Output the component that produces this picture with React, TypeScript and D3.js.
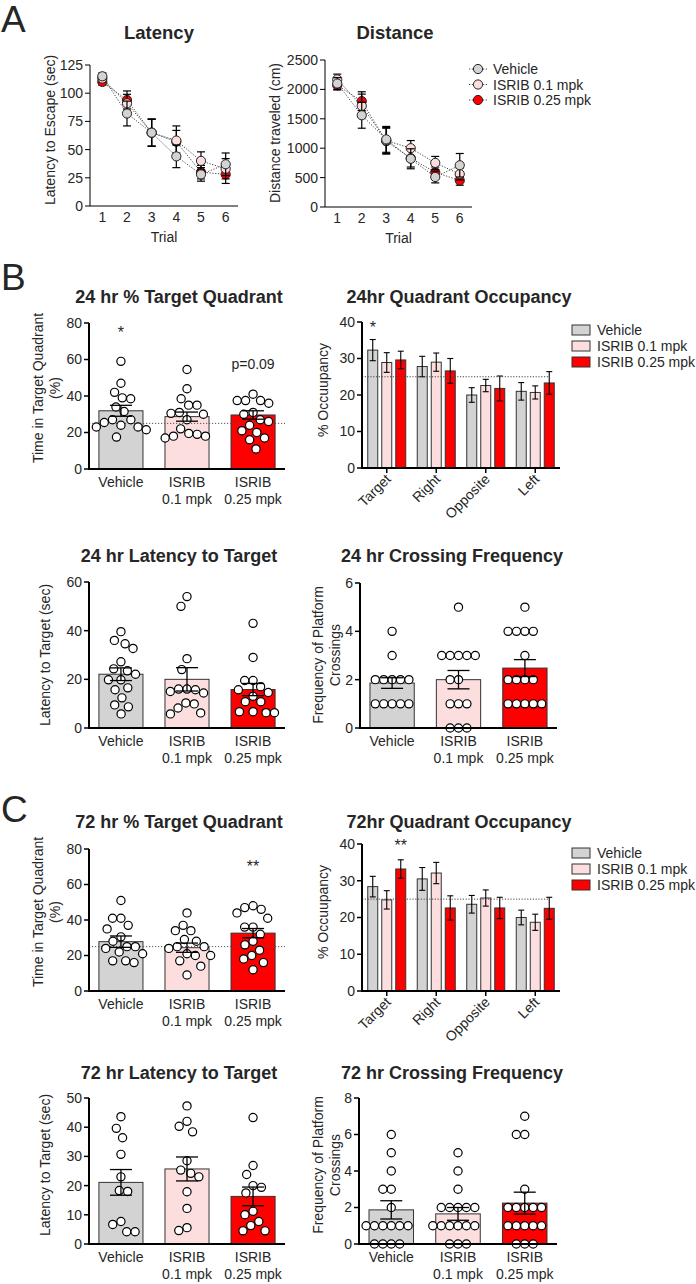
import React from "react";
import * as d3 from "d3";

const FONT = "'Liberation Sans', Arial, Helvetica, sans-serif";
const TXT = "#262626";

// ---------- shared categories ----------
const SERIES = ["Vehicle", "ISRIB 0.1 mpk", "ISRIB 0.25 mpk"];
const FILLS = ["#d3d3d3", "#fcdede", "#ff0000"];
const GROUP_LABELS = [["Vehicle"], ["ISRIB", "0.1 mpk"], ["ISRIB", "0.25 mpk"]];
const QUADRANTS = ["Target", "Right", "Opposite", "Left"];
const TRIALS = [1, 2, 3, 4, 5, 6];

// ---------- Panel A ----------
const latVeh = [115, 82, 65, 44, 28, 37];
const latVehSem = [3, 11, 12, 10, 6, 10];
const lat01 = [113, 91, 65, 58, 40, 33];
const lat01Sem = [3, 8, 12, 13, 8, 9];
const lat025 = [110, 94, 65, 57, 30, 28];
const lat025Sem = [3, 8, 12, 10, 6, 8];

const distVeh = [2100, 1560, 1150, 820, 510, 710];
const distVehSem = [100, 220, 220, 170, 100, 200];
const dist01 = [2170, 1720, 1130, 1000, 750, 560];
const dist01Sem = [90, 200, 220, 130, 110, 100];
const dist025 = [2070, 1800, 1120, 830, 590, 450];
const dist025Sem = [80, 160, 220, 150, 90, 80];

// ---------- Panel B (24 hr) ----------
const b24TargetMean = [31.9, 28.7, 29.6];
const b24TargetSem = [3.0, 2.5, 2.3];
const b24TargetVeh = [59, 47, 42, 39, 38.5, 34, 31.5, 27, 27, 25.5, 24, 23, 23, 21.5, 17.5];
const b24Target01 = [54.5, 44, 38.5, 35, 35, 31, 30.5, 30, 27, 22, 19.5, 18, 18, 19, 17];
const b24Target025 = [41, 37.5, 37.5, 37.5, 36, 31, 30, 27, 26, 24, 21, 20, 17, 16, 11];

const b24OccVeh = [32.3, 27.8, 20.0, 21.0];
const b24OccVehSem = [2.9, 2.8, 2.0, 2.4];
const b24Occ01 = [28.9, 29.0, 22.6, 20.7];
const b24Occ01Sem = [2.7, 2.5, 1.7, 1.8];
const b24Occ025 = [29.6, 26.6, 21.8, 23.3];
const b24Occ025Sem = [2.4, 3.4, 3.4, 3.1];

const b24LatMean = [22.1, 20.0, 15.8];
const b24LatSem = [2.6, 4.8, 2.5];
const b24LatVeh = [39.6, 36, 34.6, 32.7, 27.2, 24.3, 23.5, 22.1, 19.8, 19.8, 16.5, 15.7, 12.4, 9.5, 8.7, 5.8];
const b24Lat01 = [54, 50, 28.5, 24, 16, 16, 15.7, 15, 14.4, 10.3, 9.9, 8.2, 6.2, 5.8];
const b24Lat025 = [43, 29, 19.5, 19.5, 17, 15.7, 14.6, 13, 10.8, 10.8, 6.7, 6.3, 6.3, 6.7];

const b24CrossMean = [1.86, 2.0, 2.48];
const b24CrossSem = [0.22, 0.38, 0.35];
const b24CrossVeh = [4, 3, 2, 2, 2, 2, 2, 1, 1, 1, 1, 1];
const b24Cross01 = [5, 3, 3, 3, 3, 3, 2, 2, 1, 1, 1, 0, 0, 0];
const b24Cross025 = [5, 4, 4, 4, 4, 3, 2, 2, 2, 2, 1, 1, 1, 1, 1];

// ---------- Panel C (72 hr) ----------
const c72TargetMean = [27.8, 24.4, 32.6];
const c72TargetSem = [3.2, 2.6, 2.6];
const c72TargetVeh = [51, 41, 41, 37, 35, 30.5, 28, 25, 25, 24, 22, 21, 17, 16, 17];
const c72Target01 = [44, 37, 34, 34, 29, 28, 25, 25, 24, 21, 20, 20, 17, 14, 9];
const c72Target025 = [48, 47, 46, 44, 41, 36, 36, 32, 28, 26, 23, 20, 18, 16, 12];

const c72OccVeh = [28.4, 30.5, 23.6, 20.0];
const c72OccVehSem = [2.8, 3.1, 2.4, 2.0];
const c72Occ01 = [24.8, 32.1, 25.3, 18.7];
const c72Occ01Sem = [2.5, 2.9, 2.2, 2.2];
const c72Occ025 = [33.2, 22.6, 22.6, 22.5];
const c72Occ025Sem = [2.5, 3.3, 2.9, 3.0];

const c72LatMean = [21.1, 25.7, 16.3];
const c72LatSem = [4.4, 4.1, 3.2];
const c72LatVeh = [43.6, 39.6, 36.4, 30.7, 23, 18.3, 18, 7.7, 6.7, 4.2, 4.2];
const c72Lat01 = [47.3, 42, 40.3, 38.4, 28.5, 25.3, 24.2, 23, 17.9, 12.2, 5.6, 4.6];
const c72Lat025 = [43.3, 26.9, 23.8, 20, 19.4, 17.5, 11.2, 10, 7.7, 6.3, 4.5, 4.5];

const c72CrossMean = [1.87, 1.65, 2.24];
const c72CrossSem = [0.5, 0.35, 0.6];
const c72CrossVeh = [6, 5, 4, 3, 3, 2, 1, 1, 1, 1, 1, 1, 0, 0, 0, 0];
const c72Cross01 = [5, 4, 3, 2, 2, 2, 2, 2, 1, 1, 1, 1, 1, 1, 0, 0, 0];
const c72Cross025 = [7, 6, 6, 3, 2, 2, 2, 2, 2, 1, 1, 1, 1, 1, 0, 0, 0];

// ---------- helpers ----------
// beeswarm-style horizontal dodge; vertical distances are weighted by k so
// neighbours at similar heights spread sideways a little more
function dodge(vals: number[], y: (v: number) => number, r: number, k = 0.6): number[] {
  const d = 2 * r;
  const order = vals.map((_, i) => i).sort((a, b) => vals[b] - vals[a]);
  const placed: { x: number; y: number }[] = [];
  const out = new Array(vals.length).fill(0);
  for (const i of order) {
    const yy = y(vals[i]);
    const cands = [0];
    for (const p of placed) {
      const dy = Math.abs(p.y - yy) * k;
      if (dy < d) {
        const dx = Math.sqrt(d * d - dy * dy);
        cands.push(p.x - dx, p.x + dx);
      }
    }
    cands.sort((a, b) => Math.abs(a) - Math.abs(b) || a - b);
    let best = 0;
    for (const c of cands) {
      if (placed.every((p) => (p.x - c) ** 2 + ((p.y - yy) * k) ** 2 >= d * d - 0.01)) {
        best = c;
        break;
      }
    }
    placed.push({ x: best, y: yy });
    out[i] = best;
  }
  return out;
}

function YLabel({ x, y, lines, gap = 17 }: { x: number; y: number; lines: string[]; gap?: number }) {
  return (
    <g>
      {lines.map((l, i) => (
        <text
          key={i}
          transform={`translate(${x + i * gap},${y}) rotate(-90)`}
          textAnchor="middle"
          dominantBaseline="central"
          fontSize={14}
          fill={TXT}
        >
          {l}
        </text>
      ))}
    </g>
  );
}

function YAxis({ x, y, ticks, width = 2 }: { x: number; y: d3.ScaleLinear<number, number>; ticks: number[]; width?: number }) {
  const [y0, y1] = y.range();
  return (
    <g>
      <line x1={x} x2={x} y1={y0} y2={y1} stroke="#000" strokeWidth={width} />
      {ticks.map((t) => (
        <g key={t}>
          <line x1={x - 5} x2={x} y1={y(t)} y2={y(t)} stroke="#000" strokeWidth={width === 2 ? 1.5 : 1} />
          <text x={x - 7} y={y(t)} dy="0.35em" textAnchor="end" fontSize={14} fill={TXT}>
            {t}
          </text>
        </g>
      ))}
    </g>
  );
}

// ---------- Line chart (panel A) ----------
type LineSeries = { vals: number[]; sems: number[] };
function LineChart(props: {
  x0: number; x1: number; yBase: number; yTop: number; yMax: number; step: number;
  series: LineSeries[]; title: string; titleX: number; ylab: string; ylabX: number; ylabY: number;
}) {
  const { x0, x1, yBase, yTop, yMax, step, series, title, titleX, ylab, ylabX, ylabY } = props;
  const x = d3.scaleLinear().domain([0.5, 6.5]).range([x0, x1]);
  const y = d3.scaleLinear().domain([0, yMax]).range([yBase, yTop]);
  const ticks = d3.range(0, yMax + 1e-9, step);
  const line = d3.line<number>().x((_, i) => x(TRIALS[i])).y((v) => y(v));
  const drawOrder = [2, 1, 0];
  return (
    <g>
      <text x={titleX} y={39} textAnchor="middle" fontSize={18.5} fontWeight="bold" fill={TXT}>{title}</text>
      <YAxis x={x0} y={y} ticks={ticks} width={1} />
      <line x1={x0} x2={x1} y1={yBase} y2={yBase} stroke="#000" strokeWidth={1} />
      {TRIALS.map((t) => (
        <text key={t} x={x(t)} y={yBase + 16} textAnchor="middle" fontSize={14} fill={TXT}>{t}</text>
      ))}
      <text x={(x0 + x1) / 2} y={yBase + 36} textAnchor="middle" fontSize={14} fill={TXT}>Trial</text>
      <YLabel x={ylabX} y={ylabY} lines={[ylab]} />
      {series.map((s, si) => (
        <path key={si} d={line(s.vals) || ""} fill="none" stroke="#444" strokeWidth={1} strokeDasharray="1.2,1.6" />
      ))}
      {drawOrder.map((si) => {
        const s = series[si];
        return (
          <g key={si}>
            {s.vals.map((v, i) => {
              const cx = x(TRIALS[i]);
              const hi = y(v + s.sems[i]);
              const lo = y(v - s.sems[i]);
              return (
                <g key={i}>
                  <line x1={cx} x2={cx} y1={hi} y2={lo} stroke="#000" strokeWidth={1.2} />
                  <line x1={cx - 4} x2={cx + 4} y1={hi} y2={hi} stroke="#000" strokeWidth={1.2} />
                  <line x1={cx - 4} x2={cx + 4} y1={lo} y2={lo} stroke="#000" strokeWidth={1.2} />
                  <circle cx={cx} cy={y(v)} r={4.6} fill={FILLS[si]} stroke="#222" strokeWidth={1} />
                </g>
              );
            })}
          </g>
        );
      })}
    </g>
  );
}

// ---------- Bar + scatter chart ----------
type Note = { group: number; text: string; value: number; size?: number };
function BarScatter(props: {
  x0: number; x1: number; yBase: number; yTop: number; yMax: number; step: number;
  means: number[]; sems: number[]; pts: number[][];
  title: string; titleX: number; titleY: number;
  ylab: string[]; ylabX: number; ylabY: number; dotted?: number; notes?: Note[];
}) {
  const { x0, x1, yBase, yTop, yMax, step, means, sems, pts, title, titleX, titleY, ylab, ylabX, ylabY, dotted, notes } = props;
  const x = d3.scaleBand<number>().domain([0, 1, 2]).range([x0, x1]).paddingInner(0.333).paddingOuter(0.15);
  const y = d3.scaleLinear().domain([0, yMax]).range([yBase, yTop]);
  const ticks = d3.range(0, yMax + 1e-9, step);
  const bw = x.bandwidth();
  const r = 4.1;
  return (
    <g>
      <text x={titleX} y={titleY} textAnchor="middle" fontSize={18} fontWeight="bold" fill={TXT}>{title}</text>
      {means.map((m, gi) => (
        <rect key={gi} x={x(gi)!} y={y(m)} width={bw} height={yBase - y(m)} fill={FILLS[gi]} stroke="#333" strokeWidth={1} />
      ))}
      {dotted !== undefined && (
        <line x1={x0} x2={x1} y1={y(dotted)} y2={y(dotted)} stroke="#555" strokeWidth={1} strokeDasharray="1.2,1.8" />
      )}
      {pts.map((arr, gi) => {
        const cx = x(gi)! + bw / 2;
        const offs = dodge(arr, (v) => y(v), r + 0.1);
        return (
          <g key={gi}>
            {arr.map((v, i) => (
              <circle key={i} cx={cx + offs[i]} cy={y(v)} r={r} fill="#fff" stroke="#000" strokeWidth={1.2} />
            ))}
          </g>
        );
      })}
      {means.map((m, gi) => {
        const cx = x(gi)! + bw / 2;
        const hi = y(m + sems[gi]);
        const lo = y(m - sems[gi]);
        return (
          <g key={gi}>
            <line x1={cx} x2={cx} y1={hi} y2={lo} stroke="#000" strokeWidth={1.3} />
            <line x1={cx - 11} x2={cx + 11} y1={hi} y2={hi} stroke="#000" strokeWidth={1.3} />
            <line x1={cx - 11} x2={cx + 11} y1={lo} y2={lo} stroke="#000" strokeWidth={1.3} />
          </g>
        );
      })}
      <YAxis x={x0} y={y} ticks={ticks} />
      <line x1={x0 - 1} x2={x1} y1={yBase} y2={yBase} stroke="#000" strokeWidth={2} />
      {GROUP_LABELS.map((ls, gi) => (
        <text key={gi} x={x(gi)! + bw / 2} y={yBase + 18} textAnchor="middle" fontSize={14} fill={TXT}>
          {ls.map((l, li) => (
            <tspan key={li} x={x(gi)! + bw / 2} dy={li === 0 ? 0 : 17}>{l}</tspan>
          ))}
        </text>
      ))}
      <YLabel x={ylabX} y={ylabY} lines={ylab} />
      {(notes || []).map((n, i) => (
        <text key={i} x={x(n.group)! + bw / 2} y={y(n.value)} textAnchor="middle" fontSize={n.size || 16} fill={TXT}>
          {n.text}
        </text>
      ))}
    </g>
  );
}

// ---------- grouped occupancy chart ----------
function OccChart(props: {
  yBase: number; yTop: number; vals: number[][]; sems: number[][];
  title: string; titleY: number; ylabY: number; note: { group: number; series: number; text: string; value: number };
  legendY: number;
}) {
  const { yBase, yTop, vals, sems, title, titleY, ylabY, note, legendY } = props;
  const x0 = 362, x1 = 560;
  const gx = d3.scaleBand<string>().domain(QUADRANTS).range([x0, x1]).padding(0);
  const sx = d3.scaleBand<number>().domain([0, 1, 2]).range([0, gx.bandwidth()]).paddingInner(0.286).paddingOuter(0.41);
  const y = d3.scaleLinear().domain([0, 40]).range([yBase, yTop]);
  const bw = sx.bandwidth();
  return (
    <g>
      <text x={459} y={titleY} textAnchor="middle" fontSize={18} fontWeight="bold" fill={TXT}>{title}</text>
      {QUADRANTS.map((q, qi) => (
        <g key={q}>
          {vals.map((sv, si) => {
            const bx = gx(q)! + sx(si)!;
            const m = sv[qi];
            const cx = bx + bw / 2;
            const hi = y(m + sems[si][qi]);
            const lo = y(m - sems[si][qi]);
            return (
              <g key={si}>
                <rect x={bx} y={y(m)} width={bw} height={yBase - y(m)} fill={FILLS[si]} stroke="#333" strokeWidth={1} />
                <line x1={cx} x2={cx} y1={hi} y2={lo} stroke="#000" strokeWidth={1.1} />
                <line x1={cx - 3} x2={cx + 3} y1={hi} y2={hi} stroke="#000" strokeWidth={1.1} />
                <line x1={cx - 3} x2={cx + 3} y1={lo} y2={lo} stroke="#000" strokeWidth={1.1} />
              </g>
            );
          })}
        </g>
      ))}
      <line x1={x0} x2={548} y1={y(25)} y2={y(25)} stroke="#444" strokeWidth={1} strokeDasharray="1.2,1.6" />
      <YAxis x={x0} y={y} ticks={[0, 10, 20, 30, 40]} />
      <line x1={x0 - 1} x2={x1} y1={yBase} y2={yBase} stroke="#000" strokeWidth={2} />
      {QUADRANTS.map((q) => {
        const cx = gx(q)! + gx.bandwidth() / 2;
        return (
          <g key={q}>
            <line x1={cx} x2={cx} y1={yBase} y2={yBase + 5} stroke="#000" strokeWidth={1.5} />
            <text transform={`translate(${cx + 5},${yBase + 12}) rotate(-45)`} textAnchor="end" fontSize={14} fill={TXT}>
              {q}
            </text>
          </g>
        );
      })}
      <YLabel x={323} y={ylabY} lines={["% Occuupancy"]} />
      <text
        x={gx(QUADRANTS[note.group])! + sx(note.series)! + bw / 2}
        y={y(note.value)}
        textAnchor="middle"
        fontSize={16}
        fill={TXT}
      >
        {note.text}
      </text>
      {SERIES.map((s, si) => (
        <g key={s}>
          <rect x={572} y={legendY + si * 16 - 5} width={18} height={10} fill={FILLS[si]} stroke="#333" strokeWidth={1} />
          <text x={597} y={legendY + si * 16 + 5} fontSize={14} fill={TXT}>{s}</text>
        </g>
      ))}
    </g>
  );
}

export default function App() {
  const latSeries = [
    { vals: latVeh, sems: latVehSem },
    { vals: lat01, sems: lat01Sem },
    { vals: lat025, sems: lat025Sem },
  ];
  const distSeries = [
    { vals: distVeh, sems: distVehSem },
    { vals: dist01, sems: dist01Sem },
    { vals: dist025, sems: dist025Sem },
  ];
  return (
    <svg
      width={696}
      height={1284}
      viewBox="0 0 696 1284"
      style={{ position: "absolute", left: 0, top: 0, background: "#fff" }}
      fontFamily={FONT}
    >
      <rect x={0} y={0} width={696} height={1284} fill="#fff" />
      {/* Panel letters */}
      <text x={1} y={32} fontSize={37} fill={TXT}>A</text>
      <text x={1} y={290} fontSize={37} fill={TXT}>B</text>
      <text x={1} y={822} fontSize={37} fill={TXT}>C</text>

      {/* Panel A */}
      <LineChart x0={90} x1={238} yBase={206} yTop={65} yMax={125} step={25} series={latSeries}
        title="Latency" titleX={159} ylab="Latency to Escape (sec)" ylabX={50} ylabY={130} />
      <LineChart x0={325} x1={472} yBase={207} yTop={60} yMax={2500} step={500} series={distSeries}
        title="Distance" titleX={395} ylab="Distance traveled (cm)" ylabX={275} ylabY={133} />
      {SERIES.map((s, si) => (
        <g key={s}>
          <line x1={469} x2={487} y1={69 + si * 15.5} y2={69 + si * 15.5} stroke="#444" strokeWidth={1} strokeDasharray="1.2,1.6" />
          <circle cx={478} cy={69 + si * 15.5} r={4.6} fill={FILLS[si]} stroke="#222" strokeWidth={1} />
          <text x={493} y={69 + si * 15.5 + 5} fontSize={14} fill={TXT}>{s}</text>
        </g>
      ))}

      {/* Panel B */}
      <BarScatter x0={89} x1={285} yBase={469} yTop={323} yMax={80} step={20}
        means={b24TargetMean} sems={b24TargetSem} pts={[b24TargetVeh, b24Target01, b24Target025]}
        title="24 hr % Target Quadrant" titleX={179} titleY={303}
        ylab={["Time in Target Quadrant", "(%)"]} ylabX={38} ylabY={388} dotted={25}
        notes={[{ group: 0, text: "*", value: 72 }, { group: 2, text: "p=0.09", value: 55, size: 14 }]} />
      <OccChart yBase={468} yTop={322}
        vals={[b24OccVeh, b24Occ01, b24Occ025]} sems={[b24OccVehSem, b24Occ01Sem, b24Occ025Sem]}
        title="24hr Quadrant Occupancy" titleY={303} ylabY={390}
        note={{ group: 0, series: 0, text: "*", value: 37 }} legendY={330} />
      <BarScatter x0={89} x1={285} yBase={728} yTop={582} yMax={60} step={20}
        means={b24LatMean} sems={b24LatSem} pts={[b24LatVeh, b24Lat01, b24Lat025]}
        title="24 hr Latency to Target" titleX={179} titleY={562}
        ylab={["Latency to Target (sec)"]} ylabX={45} ylabY={655} />
      <BarScatter x0={360} x1={557} yBase={728} yTop={583} yMax={6} step={2}
        means={b24CrossMean} sems={b24CrossSem} pts={[b24CrossVeh, b24Cross01, b24Cross025]}
        title="24 hr Crossing Frequency" titleX={452} titleY={562}
        ylab={["Frequency of Platform", "Crossings"]} ylabX={318} ylabY={655} />

      {/* Panel C */}
      <BarScatter x0={89} x1={285} yBase={991} yTop={849} yMax={80} step={20}
        means={c72TargetMean} sems={c72TargetSem} pts={[c72TargetVeh, c72Target01, c72Target025]}
        title="72 hr % Target Quadrant" titleX={179} titleY={828}
        ylab={["Time in Target Quadrant", "(%)"]} ylabX={38} ylabY={912} dotted={25}
        notes={[{ group: 2, text: "**", value: 67 }]} />
      <OccChart yBase={991} yTop={844}
        vals={[c72OccVeh, c72Occ01, c72Occ025]} sems={[c72OccVehSem, c72Occ01Sem, c72Occ025Sem]}
        title="72hr Quadrant Occupancy" titleY={828} ylabY={912}
        note={{ group: 0, series: 2, text: "**", value: 38 }} legendY={853} />
      <BarScatter x0={89} x1={285} yBase={1244} yTop={1098} yMax={50} step={10}
        means={c72LatMean} sems={c72LatSem} pts={[c72LatVeh, c72Lat01, c72Lat025]}
        title="72 hr Latency to Target" titleX={179} titleY={1079}
        ylab={["Latency to Target (sec)"]} ylabX={45} ylabY={1165} />
      <BarScatter x0={359} x1={557} yBase={1244} yTop={1098} yMax={8} step={2}
        means={c72CrossMean} sems={c72CrossSem} pts={[c72CrossVeh, c72Cross01, c72Cross025]}
        title="72 hr Crossing Frequency" titleX={452} titleY={1079}
        ylab={["Frequency of Platform", "Crossings"]} ylabX={318} ylabY={1165} />
    </svg>
  );
}
